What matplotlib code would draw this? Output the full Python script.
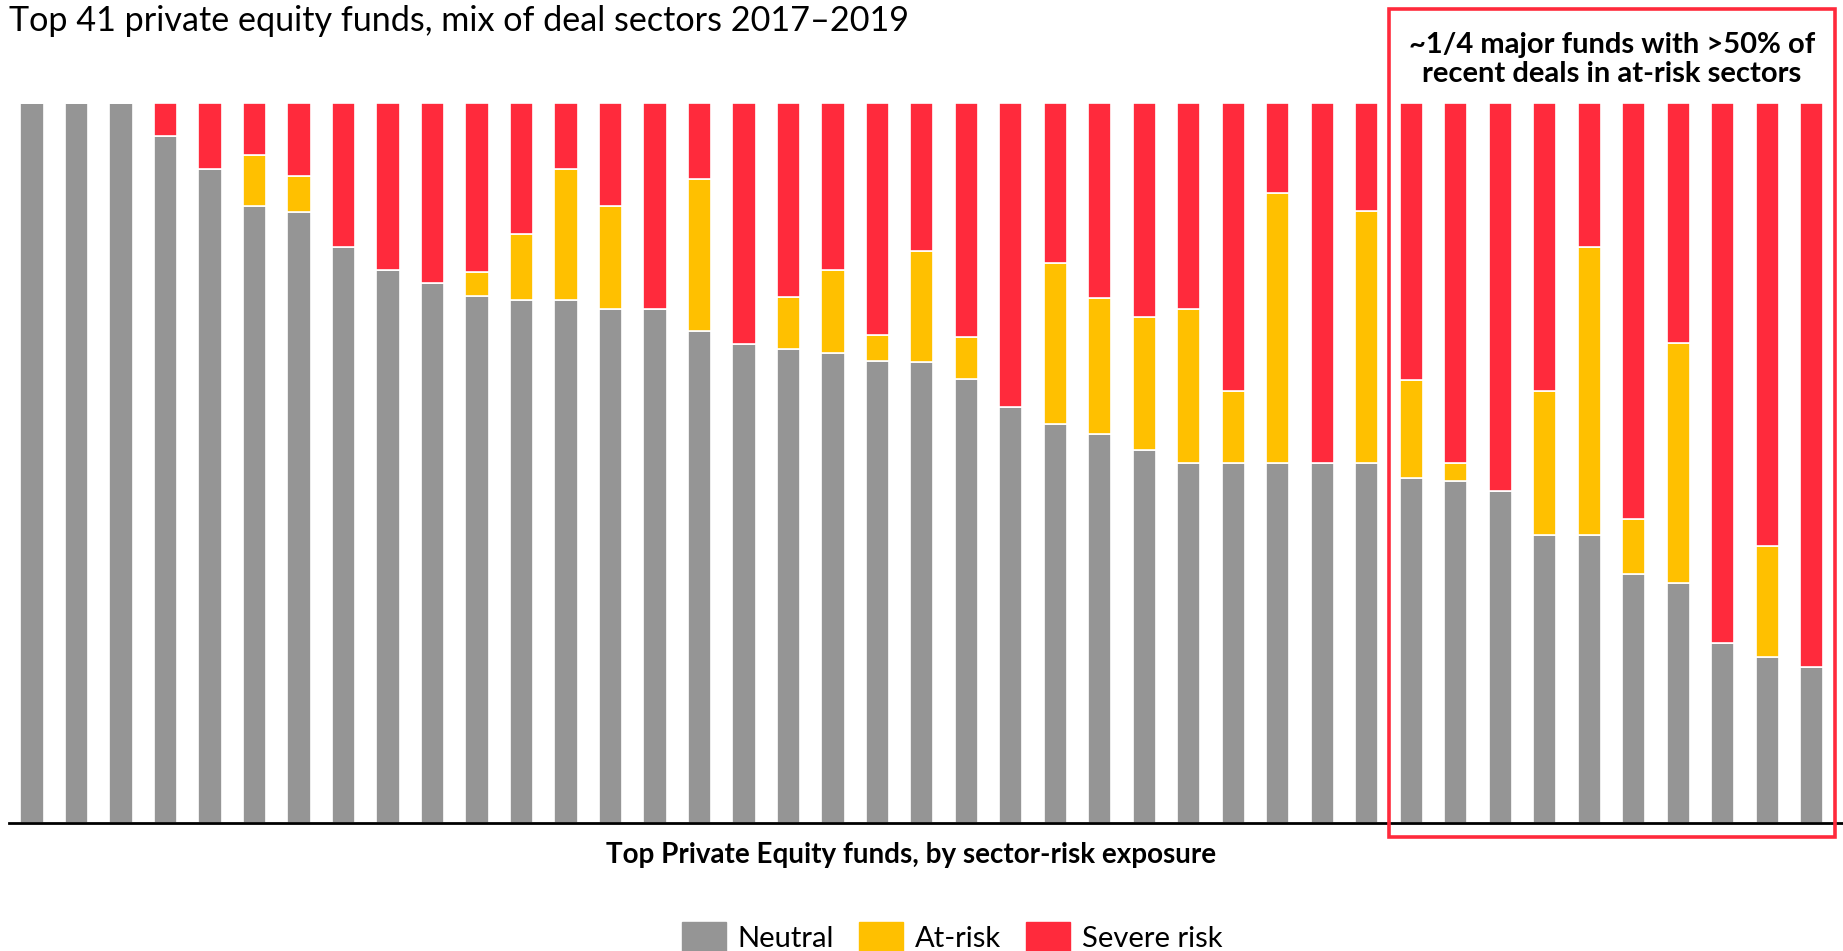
import matplotlib
matplotlib.use('Agg')
import matplotlib.pyplot as plt
from matplotlib.patches import Rectangle, Patch

plt.rcParams['font.family'] = ['Lato', 'DejaVu Sans']

# share of deals per fund (%)
neutral = [100, 100, 100, 95.5, 90.9, 85.7, 84.9, 80.0, 76.9, 75.0,
           73.3, 72.7, 72.7, 71.4, 71.4, 68.4, 66.6, 65.8, 65.3, 64.2,
           64.1, 61.7, 57.8, 55.5, 54.0, 51.8, 50.0, 50.0, 50.0, 50.0,
           50.0, 48.0, 47.5, 46.2, 40.0, 40.0, 34.6, 33.4, 25.0, 23.1, 21.7]
at_risk = [0, 0, 0, 0, 0, 7.1, 5.0, 0, 0, 0,
           3.3, 9.1, 18.2, 14.3, 0, 21.1, 0, 7.3, 11.6, 3.6,
           15.4, 5.9, 0, 22.3, 18.9, 18.5, 21.4, 10.0, 37.5, 0,
           35.0, 13.6, 2.5, 0, 20.0, 40.0, 7.7, 33.3, 0, 15.4, 0]
severe = [100 - n - a for n, a in zip(neutral, at_risk)]
x = list(range(len(neutral)))

c_neutral = '#959595'
c_atrisk = '#FFC000'
c_severe = '#FF2A3C'

fig = plt.figure(figsize=(18.43, 9.51), dpi=100)
ax = fig.add_axes([0.0051, 0.1346, 0.9949, 0.7567])

bottom2 = [n + a for n, a in zip(neutral, at_risk)]
ax.bar(x, neutral, width=0.52, color=c_neutral, edgecolor='white', linewidth=1.2)
ax.bar(x, at_risk, width=0.52, bottom=neutral, color=c_atrisk, edgecolor='white', linewidth=1.2)
ax.bar(x, severe, width=0.52, bottom=bottom2, color=c_severe, edgecolor='white', linewidth=1.2)

ax.set_xlim(-0.508, 40.70)
ax.set_ylim(0, 100)
for s in ['top', 'right', 'left']:
    ax.spines[s].set_visible(False)
ax.spines['bottom'].set_linewidth(2)
ax.spines['bottom'].set_color('black')
ax.set_xticks([])
ax.set_yticks([])

fig.text(0.005, 0.995, u'Top 41 private equity funds, mix of deal sectors 2017\u20132019',
         fontsize=24.6, ha='left', va='top')
fig.text(0.4945, 0.101, 'Top Private Equity funds, by sector-risk exposure',
         fontsize=20, fontweight='bold', ha='center', va='center')
fig.text(0.8746, 0.937, '~1/4 major funds with >50% of\nrecent deals in at-risk sectors',
         fontsize=21, fontweight='bold', ha='center', va='center', linespacing=1.15)

box = Rectangle((0.7537, 0.1199), 0.2420, 0.8706, transform=fig.transFigure,
                fill=False, edgecolor=c_severe, linewidth=2.6)
fig.patches.append(box)

handles = [Patch(color=c_neutral, label='Neutral'),
           Patch(color=c_atrisk, label='At-risk'),
           Patch(color=c_severe, label='Severe risk')]
fig.legend(handles=handles, loc='center', bbox_to_anchor=(0.5166, 0.0147),
           ncol=3, frameon=False, fontsize=21, handlelength=1.5, handleheight=1.2,
           columnspacing=0.85, handletextpad=0.42, borderpad=0)

plt.savefig('out.png', dpi=100)
